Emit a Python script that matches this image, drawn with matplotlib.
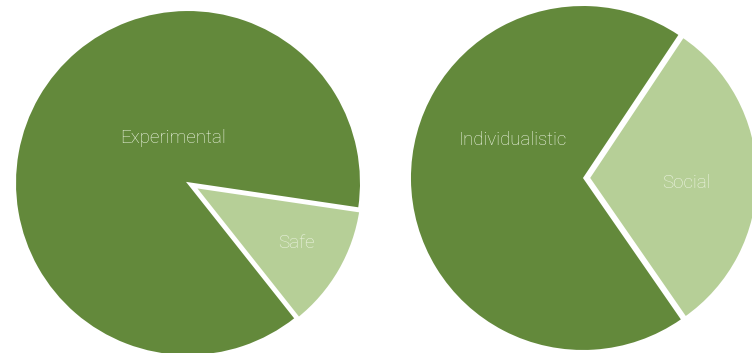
import matplotlib.pyplot as plt

# left pie
risk_labels = ["Experimental", "Safe"]
risk_values = [88, 12]
# right pie
focus_labels = ["Individualistic", "Social"]
focus_values = [69, 31]

dark_green = "#63893b"
light_green = "#b6cf97"
text_color = "#eef5e4"

plt.rcParams['font.family'] = ['Roboto', 'DejaVu Sans']

fig = plt.figure(figsize=(7.52, 3.53), dpi=100)
fig.patch.set_facecolor("white")

ax1 = fig.add_axes([0.0213, -0.0057, 0.4574, 0.9745])
ax2 = fig.add_axes([0.5465, 0.0085, 0.4574, 0.9745])


def draw_pie(ax, values, labels, start, label_pos):
    wedges, _ = ax.pie(values, colors=[dark_green, light_green], startangle=start,
                       counterclock=True, radius=1, explode=[0, 0.025])
    # white rim around the small slice
    wedges[1].set_edgecolor("white")
    wedges[1].set_linewidth(3.5)
    for lab, (x, y) in zip(labels, label_pos):
        ax.text(x, y, lab, ha="center", va="center", color=text_color,
                fontsize=13.5, fontweight="light", zorder=5)
    ax.set_xlim(-1, 1)
    ax.set_ylim(-1, 1)
    ax.set_aspect("equal")
    ax.axis("off")


draw_pie(ax1, risk_values, risk_labels, -8.4, [(-0.09, 0.26), (0.63, -0.35)])
draw_pie(ax2, focus_values, focus_labels, 56.3, [(-0.41, 0.22), (0.6, -0.03)])

fig.savefig("out.png", dpi=100, facecolor="white")
